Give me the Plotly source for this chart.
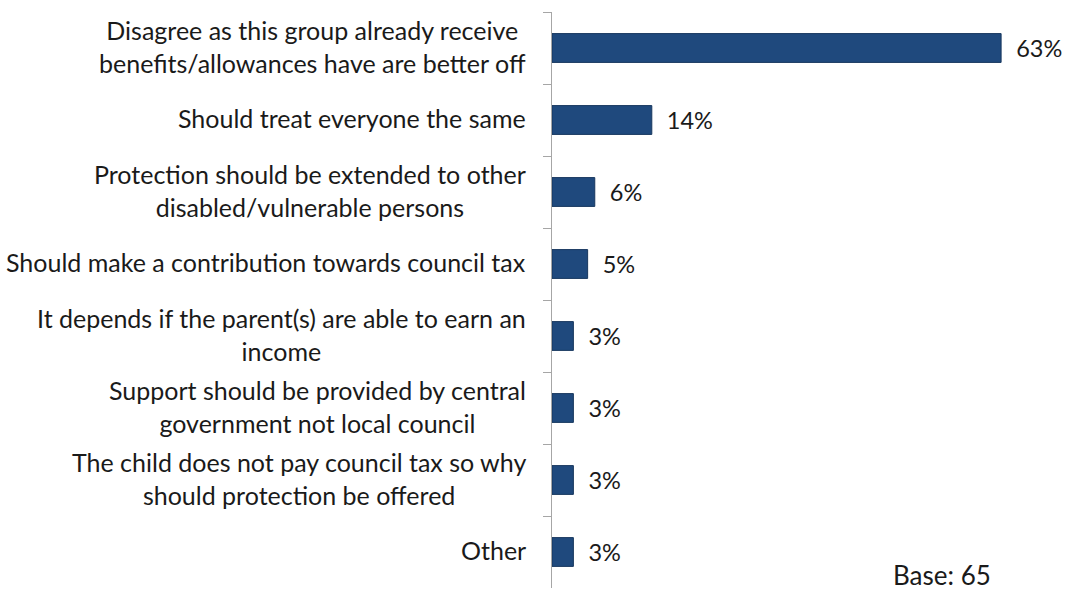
import plotly.graph_objects as go

categories = [
    "Disagree as this group already receive<br>benefits/allowances have are better off",
    "Should treat everyone the same",
    "Protection should be extended to other<br>disabled/vulnerable persons",
    "Should make a contribution towards council tax",
    "It depends if the parent(s) are able to earn an<br>income",
    "Support should be provided by central<br>government not local council",
    "The child does not pay council tax so why<br>should protection be offered",
    "Other",
]
values = [63, 14, 6, 5, 3, 3, 3, 3]
base_note = "Base: 65"

FONT = "Lato, Carlito, Calibri, sans-serif"
TEXT_COLOR = "#1a1a1a"

fig = go.Figure(
    go.Bar(
        y=categories,
        x=values,
        orientation="h",
        marker=dict(color="#1F497D", line=dict(color="#17375E", width=1)),
        text=[f"{v}%" for v in values],
        texttemplate="  %{text}",
        textposition="outside",
        textfont=dict(family=FONT, size=23.5, color=TEXT_COLOR),
        cliponaxis=False,
        width=0.4,
    )
)

# Category labels: wrapped lines centred on each other, block right-aligned to the axis
label_annotations = [
    dict(
        text=cat,
        xref="paper", yref="y",
        x=0, y=cat,
        xanchor="right", yanchor="middle",
        xshift=-24,
        yshift=2,
        align="center",
        showarrow=False,
        font=dict(family=FONT, size=25, color=TEXT_COLOR),
    )
    for cat in categories
]

fig.update_layout(
    width=1068,
    height=590,
    margin=dict(l=552, r=17, t=12, b=2),
    paper_bgcolor="white",
    plot_bgcolor="white",
    showlegend=False,
    font=dict(family=FONT, size=25, color=TEXT_COLOR),
    annotations=label_annotations + [
        dict(
            text=base_note,
            xref="paper", yref="paper",
            x=0.884, y=0,
            xanchor="right", yanchor="bottom",
            yshift=-5,
            showarrow=False,
            font=dict(family=FONT, size=26, color=TEXT_COLOR),
        )
    ],
)

fig.update_xaxes(range=[0, 70], visible=False)
fig.update_yaxes(
    autorange="reversed",
    showline=True,
    linecolor="#A6A6A6",
    linewidth=1,
    ticks="outside",
    tickson="boundaries",
    ticklen=8,
    tickcolor="#A6A6A6",
    showgrid=False,
    showticklabels=False,
)

fig.write_html("out.html")
